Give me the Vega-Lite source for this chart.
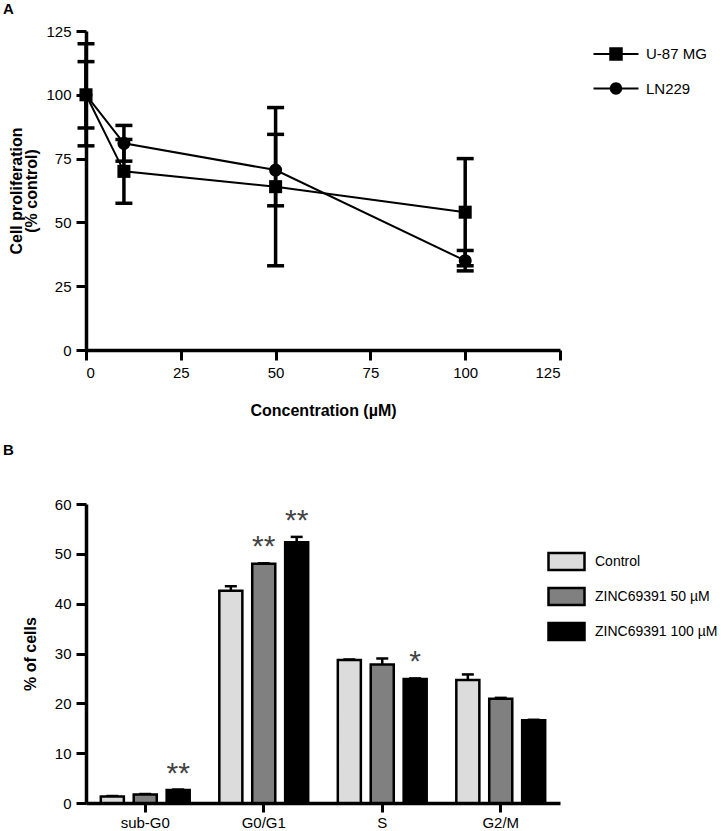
{
  "$schema": "https://vega.github.io/schema/vega-lite/v6.json",
  "padding": {"left": 3, "top": 2, "right": 0, "bottom": 0},
  "background": "white",
  "bounds": "flush",
  "spacing": 154,
  "config": {
    "view": {"stroke": null},
    "font": "Liberation Sans",
    "axis": {
      "grid": false,
      "domainColor": "black",
      "domainWidth": 3.5,
      "tickColor": "black",
      "tickWidth": 3,
      "tickSize": 10,
      "labelColor": "black",
      "labelFontSize": 15,
      "labelPadding": 5,
      "titleColor": "black",
      "titleFontSize": 16,
      "titleFontWeight": "bold"
    },
    "legend": {"labelFontSize": 15, "labelColor": "black"}
  },
  "vconcat": [
    {
      "width": 474,
      "height": 319,
      "title": {"text": "A", "anchor": "start", "frame": "group", "dx": -83, "offset": 7, "fontSize": 15, "fontWeight": "bold", "color": "black"},
      "data": {"values": [
        {"cell": "U-87 MG", "conc": 0, "mean": 100, "lo": 80, "hi": 120},
        {"cell": "U-87 MG", "conc": 10, "mean": 70, "lo": 57.5, "hi": 82.5},
        {"cell": "U-87 MG", "conc": 50, "mean": 64, "lo": 33, "hi": 95},
        {"cell": "U-87 MG", "conc": 100, "mean": 54, "lo": 33, "hi": 75},
        {"cell": "LN229", "conc": 0, "mean": 100, "lo": 87, "hi": 113},
        {"cell": "LN229", "conc": 10, "mean": 81, "lo": 74, "hi": 88},
        {"cell": "LN229", "conc": 50, "mean": 70.5, "lo": 56.5, "hi": 84.5},
        {"cell": "LN229", "conc": 100, "mean": 35, "lo": 31, "hi": 39}
      ]},
      "encoding": {
        "x": {
          "field": "conc", "type": "quantitative",
          "scale": {"domain": [0, 125], "nice": false},
          "axis": {"values": [0, 25, 50, 75, 100, 125], "title": "Concentration (µM)", "titlePadding": 22}
        }
      },
      "resolve": {"scale": {"shape": "independent"}},
      "layer": [
        {
          "mark": {"type": "line", "color": "black", "strokeWidth": 2},
          "encoding": {
            "y": {
              "field": "mean", "type": "quantitative",
              "scale": {"domain": [0, 125], "nice": false},
              "axis": {"values": [0, 25, 50, 75, 100, 125], "title": ["Cell proliferation", "(% control)"], "titleLineHeight": 15, "titlePadding": 6}
            },
            "detail": {"field": "cell"}
          }
        },
        {
          "mark": {"type": "rule", "color": "black", "strokeWidth": 3.5},
          "encoding": {
            "y": {"field": "lo", "type": "quantitative"},
            "y2": {"field": "hi"}
          }
        },
        {
          "mark": {"type": "tick", "orient": "horizontal", "color": "black", "size": 17, "thickness": 3.5, "opacity": 1},
          "encoding": {"y": {"field": "lo", "type": "quantitative"}}
        },
        {
          "mark": {"type": "tick", "orient": "horizontal", "color": "black", "size": 17, "thickness": 3.5, "opacity": 1},
          "encoding": {"y": {"field": "hi", "type": "quantitative"}}
        },
        {
          "mark": {"type": "point", "filled": true, "color": "black", "opacity": 1, "size": 170},
          "encoding": {
            "y": {"field": "mean", "type": "quantitative"},
            "shape": {
              "field": "cell", "type": "nominal",
              "scale": {"domain": ["U-87 MG", "LN229"], "range": ["square", "circle"]},
              "legend": null
            }
          }
        },
        {
          "mark": {"type": "point", "filled": true, "color": "black", "opacity": 1, "size": 0},
          "encoding": {
            "y": {"field": "mean", "type": "quantitative"},
            "shape": {
              "field": "cell", "type": "nominal",
              "scale": {"domain": ["U-87 MG", "LN229"], "range": ["M-2,-0.09H2V0.09H-2ZM-0.6,-0.6H0.6V0.6H-0.6Z", "M-2,-0.09H2V0.09H-2ZM0.55,0A0.55,0.55,0,1,1,-0.55,0A0.55,0.55,0,1,1,0.55,0Z"]},
              "legend": {
                "title": null,
                "orient": "none",
                "legendX": 518,
                "legendY": 11,
                "padding": 0,
                "symbolSize": 506,
                "symbolOpacity": 1,
                "symbolFillColor": "black",
                "rowPadding": 12.5,
                "labelOffset": 18,
                "labelFontSize": 15
              }
            }
          }
        }
      ]
    },
    {
      "width": 474,
      "height": 299,
      "title": {"text": "B", "anchor": "start", "frame": "group", "dx": -83, "offset": 39, "fontSize": 15, "fontWeight": "bold", "color": "black"},
      "data": {"values": [
        {"phase": "sub-G0", "treat": "Control", "value": 1.3, "upper": 1.4, "sig": ""},
        {"phase": "sub-G0", "treat": "ZINC69391 50 µM", "value": 1.7, "upper": 1.8, "sig": ""},
        {"phase": "sub-G0", "treat": "ZINC69391 100 µM", "value": 2.6, "upper": 2.7, "sig": "**"},
        {"phase": "G0/G1", "treat": "Control", "value": 42.6, "upper": 43.5, "sig": ""},
        {"phase": "G0/G1", "treat": "ZINC69391 50 µM", "value": 48, "upper": 48.1, "sig": "**"},
        {"phase": "G0/G1", "treat": "ZINC69391 100 µM", "value": 52.3, "upper": 53.4, "sig": "**"},
        {"phase": "S", "treat": "Control", "value": 28.7, "upper": 28.8, "sig": ""},
        {"phase": "S", "treat": "ZINC69391 50 µM", "value": 27.8, "upper": 29.0, "sig": ""},
        {"phase": "S", "treat": "ZINC69391 100 µM", "value": 24.9, "upper": 25.0, "sig": "*"},
        {"phase": "G2/M", "treat": "Control", "value": 24.7, "upper": 25.8, "sig": ""},
        {"phase": "G2/M", "treat": "ZINC69391 50 µM", "value": 20.9, "upper": 21.1, "sig": ""},
        {"phase": "G2/M", "treat": "ZINC69391 100 µM", "value": 16.6, "upper": 16.7, "sig": ""}
      ]},
      "encoding": {
        "x": {
          "field": "phase", "type": "nominal",
          "sort": ["sub-G0", "G0/G1", "S", "G2/M"],
          "scale": {"paddingInner": 0.25, "paddingOuter": 0.125},
          "axis": {"title": null, "labelAngle": 0, "labelPadding": 3, "tickSize": 9}
        },
        "xOffset": {
          "field": "treat", "type": "nominal",
          "sort": ["Control", "ZINC69391 50 µM", "ZINC69391 100 µM"],
          "scale": {"paddingInner": 0.3, "paddingOuter": 0}
        }
      },
      "layer": [
        {
          "mark": {"type": "rule", "color": "black", "strokeWidth": 2.5},
          "encoding": {
            "y": {"field": "value", "type": "quantitative"},
            "y2": {"field": "upper"}
          }
        },
        {
          "mark": {"type": "tick", "orient": "horizontal", "color": "black", "size": 12, "thickness": 2.5, "opacity": 1},
          "encoding": {"y": {"field": "upper", "type": "quantitative"}}
        },
        {
          "mark": {"type": "bar", "stroke": "black", "strokeWidth": 2.5},
          "encoding": {
            "y": {
              "field": "value", "type": "quantitative",
              "scale": {"domain": [0, 60], "nice": false},
              "axis": {"values": [0, 10, 20, 30, 40, 50, 60], "title": "% of cells", "titlePadding": 16}
            },
            "fill": {
              "field": "treat", "type": "nominal",
              "scale": {"domain": ["Control", "ZINC69391 50 µM", "ZINC69391 100 µM"], "range": ["#dcdcdc", "#808080", "#000000"]},
              "legend": {
                "title": null,
                "orient": "none",
                "legendX": 461,
                "legendY": 511,
                "padding": 0,
                "symbolType": "M-1,-0.47H1V0.47H-1Z",
                "symbolSize": 1296,
                "symbolStrokeColor": "black",
                "symbolStrokeWidth": 2.5,
                "symbolOpacity": 1,
                "rowPadding": 2,
                "labelOffset": 9,
                "labelFontSize": 14
              }
            }
          }
        },
        {
          "mark": {"type": "text", "fontSize": 30, "color": "#444444", "baseline": "alphabetic", "dy": -7},
          "encoding": {
            "y": {"field": "upper", "type": "quantitative"},
            "text": {"field": "sig"}
          }
        }
      ]
    }
  ]
}
